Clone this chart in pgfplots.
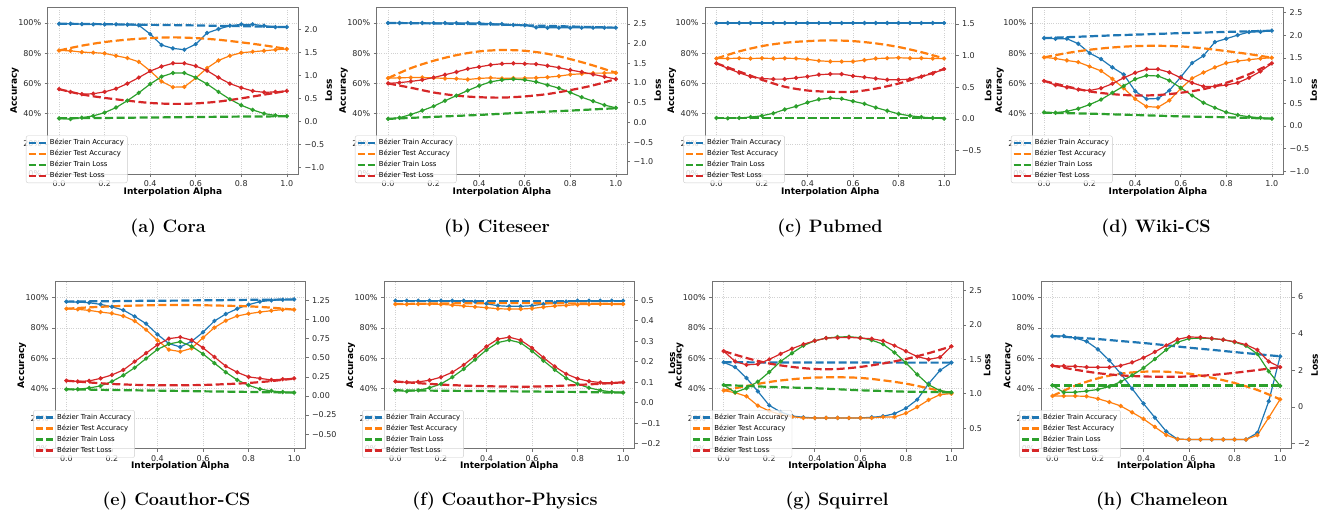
\documentclass[border=0pt]{standalone}
\usepackage{pgfplots}
\pgfplotsset{compat=1.18}
\usepackage{pgfplotstable}
\usepackage{fontspec}
\newfontfamily\dv{DejaVu Sans}
\definecolor{tb}{HTML}{1F77B4}
\definecolor{to}{HTML}{FF7F0E}
\definecolor{tg}{HTML}{2CA02C}
\definecolor{tr}{HTML}{D62728}

% ---------------- data: solid (linear path) a tra tea trl tel ----------------
\pgfplotstableread{
a tra tea trl tel
0.00 99.5 81.8 0.065 0.70
0.05 99.5 81.6 0.05 0.64
0.10 99.3 80.7 0.08 0.59
0.15 99.1 80.4 0.12 0.60
0.20 99.1 79.9 0.19 0.64
0.25 99.1 78.3 0.30 0.71
0.30 98.9 76.8 0.45 0.82
0.35 98.5 74.3 0.62 0.95
0.40 92.7 68.3 0.81 1.09
0.45 85.4 61.3 0.97 1.19
0.50 83.2 57.5 1.05 1.26
0.55 82.3 57.7 1.05 1.26
0.60 86.0 63.5 0.95 1.20
0.65 93.4 70.2 0.81 1.10
0.70 96.0 75.2 0.64 0.95
0.75 98.2 78.3 0.48 0.82
0.80 99.1 80.3 0.35 0.73
0.85 99.1 81.0 0.25 0.66
0.90 98.2 81.6 0.17 0.63
0.95 97.3 82.3 0.13 0.64
1.00 97.3 82.8 0.115 0.66
}\Scora
\pgfplotstableread{
a tra tea trl tel
0.0 99.5 81.8 0.07 0.70
0.1 99.4 85.0 0.072 0.585
0.2 99.2 87.4 0.075 0.51
0.3 99.0 89.0 0.08 0.45
0.4 98.8 90.0 0.085 0.40
0.5 98.6 90.5 0.09 0.38
0.6 98.4 90.0 0.095 0.39
0.7 98.1 88.9 0.10 0.43
0.8 97.9 87.2 0.105 0.50
0.9 97.6 85.2 0.108 0.58
1.0 97.3 82.8 0.11 0.66
}\Dcora
\pgfplotstableread{
a tra tea trl tel
0.00 100 63.5 0.09 0.99
0.05 100 63.7 0.12 1.01
0.10 100 63.9 0.20 1.04
0.15 100 63.9 0.30 1.08
0.20 100 63.7 0.41 1.14
0.25 100 63.3 0.55 1.21
0.30 100 63.1 0.68 1.28
0.35 100 62.6 0.81 1.36
0.40 100 63.3 0.93 1.41
0.45 99.5 63.7 1.03 1.46
0.50 99.3 63.3 1.08 1.49
0.55 98.7 63.5 1.10 1.50
0.60 98.5 63.5 1.08 1.49
0.65 97.1 63.7 1.03 1.48
0.70 96.9 64.1 0.95 1.44
0.75 96.9 64.8 0.87 1.39
0.80 96.9 65.9 0.76 1.33
0.85 96.9 66.4 0.64 1.28
0.90 96.9 66.8 0.54 1.22
0.95 96.9 66.8 0.44 1.16
1.00 96.9 67.0 0.37 1.10
}\Sciteseer
\pgfplotstableread{
a tra tea trl tel
0.0 100 63.5 0.09 0.99
0.1 99.9 70.1 0.115 0.88
0.2 99.7 75.0 0.14 0.76
0.3 99.5 78.7 0.165 0.68
0.4 99.2 81.2 0.19 0.64
0.5 98.9 82.1 0.22 0.63
0.6 98.5 81.6 0.25 0.66
0.7 98.1 79.6 0.275 0.72
0.8 97.7 76.1 0.30 0.82
0.9 97.3 71.9 0.33 0.94
1.0 96.9 67.0 0.36 1.10
}\Dciteseer
\pgfplotstableread{
a tra tea trl tel
0.00 100 76.5 0.016 0.88
0.05 100 76.5 0.01 0.80
0.10 100 76.7 0.016 0.73
0.15 100 76.5 0.03 0.67
0.20 100 76.7 0.05 0.64
0.25 100 76.5 0.09 0.63
0.30 100 76.7 0.15 0.63
0.35 100 76.5 0.20 0.65
0.40 100 75.9 0.26 0.67
0.45 100 75.0 0.31 0.70
0.50 100 74.5 0.33 0.71
0.55 100 74.5 0.32 0.71
0.60 100 74.5 0.28 0.68
0.65 100 75.4 0.24 0.66
0.70 100 76.5 0.18 0.64
0.75 100 76.7 0.13 0.62
0.80 100 77.0 0.08 0.62
0.85 100 76.7 0.05 0.63
0.90 100 76.7 0.03 0.67
0.95 100 76.5 0.016 0.72
1.00 100 76.5 0.005 0.79
}\Spubmed
\pgfplotstableread{
a tra tea trl tel
0.0 100 76.5 0.01 0.88
0.1 100 81.2 0.01 0.75
0.2 100 84.7 0.01 0.62
0.3 100 86.9 0.01 0.51
0.4 100 88.0 0.01 0.45
0.5 100 88.5 0.01 0.43
0.6 100 88.0 0.01 0.43
0.7 100 86.5 0.01 0.48
0.8 100 84.1 0.01 0.56
0.9 100 80.7 0.01 0.67
1.0 100 76.5 0.01 0.79
}\Dpubmed
\pgfplotstableread{
a tra tea trl tel
0.00 90.0 77.2 0.30 0.99
0.05 89.6 76.5 0.29 0.90
0.10 89.6 75.2 0.32 0.85
0.15 86.3 74.1 0.38 0.80
0.20 80.1 71.2 0.47 0.78
0.25 76.1 68.3 0.58 0.83
0.30 70.6 63.0 0.73 0.93
0.35 65.9 56.8 0.88 1.06
0.40 54.8 49.7 1.03 1.17
0.45 49.7 44.7 1.11 1.25
0.50 50.0 44.2 1.10 1.25
0.55 55.3 48.7 1.00 1.18
0.60 64.2 56.6 0.84 1.06
0.65 73.5 63.4 0.67 0.95
0.70 78.3 67.2 0.51 0.87
0.75 87.4 70.6 0.40 0.87
0.80 89.6 73.5 0.30 0.90
0.85 92.0 74.8 0.24 0.95
0.90 94.0 75.7 0.20 1.06
0.95 94.2 76.5 0.18 1.20
1.00 94.9 77.0 0.16 1.38
}\Swiki
\pgfplotstableread{
a tra tea trl tel
0.0 90.0 77.2 0.29 0.99
0.1 90.6 80.1 0.28 0.87
0.2 91.2 82.3 0.27 0.76
0.3 91.8 83.8 0.255 0.70
0.4 92.3 84.7 0.24 0.67
0.5 92.8 84.9 0.225 0.68
0.6 93.3 84.5 0.21 0.73
0.7 93.7 83.2 0.20 0.81
0.8 94.1 81.4 0.19 0.95
0.9 94.5 79.4 0.175 1.14
1.0 94.9 77.0 0.16 1.38
}\Dwiki
\pgfplotstableread{
a tra tea trl tel
0.00 97.4 92.7 0.087 0.20
0.05 97.1 92.3 0.087 0.19
0.10 96.7 91.6 0.105 0.197
0.15 95.6 90.5 0.13 0.23
0.20 94.0 89.6 0.19 0.275
0.25 91.8 87.9 0.27 0.34
0.30 87.6 84.6 0.37 0.45
0.35 82.8 78.8 0.49 0.56
0.40 75.7 71.8 0.61 0.67
0.45 69.6 65.6 0.68 0.75
0.50 67.4 64.3 0.71 0.77
0.55 71.1 66.5 0.65 0.73
0.60 77.1 73.5 0.55 0.63
0.65 84.6 80.2 0.43 0.51
0.70 89.2 84.8 0.31 0.39
0.75 92.7 87.9 0.21 0.31
0.80 95.4 89.4 0.14 0.25
0.85 97.4 90.5 0.09 0.23
0.90 98.2 91.4 0.066 0.21
0.95 98.7 92.1 0.052 0.22
1.00 98.9 92.1 0.044 0.23
}\Scs
\pgfplotstableread{
a tra tea trl tel
0.0 97.4 92.7 0.087 0.20
0.1 97.6 93.6 0.083 0.177
0.2 97.7 94.3 0.078 0.157
0.3 97.9 94.8 0.074 0.146
0.4 98.0 95.1 0.070 0.14
0.5 98.1 95.2 0.066 0.14
0.6 98.3 95.0 0.061 0.144
0.7 98.4 94.7 0.057 0.155
0.8 98.6 94.3 0.053 0.17
0.9 98.7 93.4 0.048 0.195
1.0 98.9 92.1 0.044 0.227
}\Dcs
\pgfplotstableread{
a tra tea trl tel
0.00 98.0 95.8 0.060 0.103
0.05 98.0 95.6 0.055 0.099
0.10 98.0 95.8 0.060 0.101
0.15 98.0 95.8 0.072 0.109
0.20 98.0 95.6 0.091 0.124
0.25 98.0 95.1 0.124 0.148
0.30 98.0 94.5 0.164 0.184
0.35 97.4 94.0 0.21 0.228
0.40 96.0 93.4 0.257 0.274
0.45 94.7 92.7 0.293 0.31
0.50 94.3 92.5 0.305 0.319
0.55 94.3 92.5 0.292 0.305
0.60 94.7 92.9 0.252 0.267
0.65 95.8 93.8 0.205 0.22
0.70 96.7 94.5 0.16 0.176
0.75 97.4 94.9 0.119 0.14
0.80 98.0 95.4 0.091 0.117
0.85 98.0 95.6 0.072 0.104
0.90 98.0 95.8 0.060 0.098
0.95 98.0 95.8 0.052 0.096
1.00 98.0 95.8 0.049 0.099
}\Sphys
\pgfplotstableread{
a tra tea trl tel
0.0 98.0 95.8 0.060 0.103
0.1 98.0 96.0 0.059 0.095
0.2 98.0 96.2 0.058 0.088
0.3 98.0 96.3 0.057 0.083
0.4 98.0 96.4 0.056 0.080
0.5 98.0 96.4 0.055 0.078
0.6 98.0 96.4 0.054 0.078
0.7 98.0 96.3 0.053 0.081
0.8 98.0 96.2 0.052 0.086
0.9 98.0 96.0 0.050 0.092
1.0 98.0 95.8 0.049 0.099
}\Dphys
\pgfplotstableread{
a tra tea trl tel
0.00 57.2 38.5 1.126 1.62
0.05 54.1 37.1 1.02 1.47
0.10 46.8 34.7 1.08 1.42
0.15 38.0 28.5 1.175 1.43
0.20 28.7 25.0 1.315 1.50
0.25 24.3 22.6 1.47 1.58
0.30 21.7 21.2 1.59 1.655
0.35 20.8 20.4 1.70 1.72
0.40 20.4 20.4 1.77 1.77
0.45 20.4 20.4 1.81 1.81
0.50 20.4 20.4 1.825 1.815
0.55 20.4 20.4 1.83 1.82
0.60 20.4 20.4 1.815 1.81
0.65 20.8 20.4 1.78 1.80
0.70 21.5 21.0 1.72 1.77
0.75 23.2 21.0 1.60 1.70
0.80 26.8 23.5 1.45 1.62
0.85 32.5 27.6 1.28 1.54
0.90 43.1 32.3 1.13 1.50
0.95 51.9 35.8 1.045 1.53
1.00 57.0 36.5 1.02 1.69
}\Ssq
\pgfplotstableread{
a tra tea trl tel
0.0 57.2 38.5 1.126 1.62
0.1 57.2 41.5 1.113 1.52
0.2 57.1 44.2 1.10 1.44
0.3 57.1 46.0 1.09 1.39
0.4 57.1 47.1 1.08 1.36
0.5 57.1 47.3 1.065 1.36
0.6 57.1 46.9 1.05 1.39
0.7 57.0 45.3 1.04 1.44
0.8 57.0 43.1 1.03 1.505
0.9 57.0 40.0 1.025 1.59
1.0 57.0 36.5 1.02 1.69
}\Dsq
\pgfplotstableread{
a tra tea trl tel
0.00 74.6 34.9 1.17 2.25
0.05 74.6 34.9 0.79 2.23
0.10 73.3 34.9 0.80 2.21
0.15 71.1 34.7 0.86 2.17
0.20 65.8 33.1 0.95 2.16
0.25 58.5 30.9 1.11 2.16
0.30 49.7 28.3 1.37 2.25
0.35 39.8 24.1 1.72 2.43
0.40 29.9 19.7 2.12 2.68
0.45 20.6 14.4 2.61 3.00
0.50 11.4 9.1 3.12 3.36
0.55 6.3 6.3 3.53 3.69
0.60 6.1 6.1 3.73 3.82
0.65 6.1 6.1 3.76 3.80
0.70 6.1 6.1 3.73 3.74
0.75 6.1 6.1 3.67 3.67
0.80 6.1 6.1 3.54 3.56
0.85 6.1 6.1 3.34 3.40
0.90 10.5 9.0 2.89 3.11
0.95 31.4 20.6 1.94 2.48
1.00 61.2 32.7 1.15 2.17
}\Sch
\pgfplotstableread{
a tra tea trl tel
0.0 74.6 34.9 1.17 2.25
0.1 73.6 41.7 1.17 2.03
0.2 72.6 46.6 1.17 1.84
0.3 71.3 49.7 1.17 1.72
0.4 70.0 51.0 1.17 1.66
0.5 68.5 51.0 1.17 1.64
0.6 66.9 49.7 1.17 1.66
0.7 65.5 47.0 1.17 1.74
0.8 64.0 43.5 1.17 1.86
0.9 62.6 38.9 1.17 2.01
1.0 61.2 32.7 1.17 2.17
}\Dch

\newcommand{\lblfont}{\dv\bfseries\fontsize{9}{10}\selectfont}
\pgfplotsset{
  base/.style={scale only axis, width=250.5pt, height=167pt, anchor=south west,
    xmin=-0.05, xmax=1.05, tick align=outside, major tick length=3pt,
    every tick/.style={black!55, line width=0.6pt},
    axis line style={black!55, line width=0.6pt},
    tick label style={font=\dv\fontsize{8}{9}\selectfont, text=black!85}},
  accax/.style={base, ymin=0, ymax=110.6,
    ytick={0,20,40,60,80,100}, yticklabels={0\%,20\%,40\%,60\%,80\%,100\%},
    xtick={0,0.2,0.4,0.6,0.8,1}, xticklabels={0.0,0.2,0.4,0.6,0.8,1.0},
    tick pos=left, grid=major, grid style={black!18, line width=0.45pt, dash pattern=on 1pt off 1.3pt},
    xlabel={Interpolation Alpha}, ylabel={Accuracy},
    every axis x label/.style={at={(axis description cs:0.5,-0.106)}, anchor=center, font=\lblfont},
    every axis y label/.style={at={(axis description cs:-0.132,0.5)}, rotate=90, anchor=center, font=\lblfont}},
  lossax/.style={base, axis y line*=right, axis x line=none},
  lossy/.style={ylabel={Loss},
    every axis y label/.style={at={(axis description cs:#1,0.5)}, rotate=90, anchor=center, font=\lblfont}},
  sl/.style={line width=1.2pt, mark=*, mark size=1.5pt, forget plot},
  dl/.style={line width=2.2pt, dash pattern=on 8pt off 3.5pt, smooth, forget plot},
  leg/.style={legend style={at={(axis description cs:-0.087,-0.054)}, anchor=south west,
    font=\dv\fontsize{6.9}{8}\selectfont, draw=black!20, fill=white, fill opacity=0.8,
    text opacity=1, draw opacity=1, rounded corners=2pt, inner xsep=1.5pt, inner ysep=1.5pt,
    row sep=0pt, cells={anchor=west, inner ysep=1pt}},
    legend image code/.code={\draw[##1] (0pt,0pt) -- (18pt,0pt);}},
}

\newcommand{\panel}[8]{%
  \begin{axis}[accax, at={(#1pt,-#2pt)}]
    \addplot[sl, tb] table[x=a, y=tra] {#3};
    \addplot[dl, tb] table[x=a, y=tra] {#4};
    \addplot[sl, to] table[x=a, y=tea] {#3};
    \addplot[dl, to] table[x=a, y=tea] {#4};
  \end{axis}
  \begin{axis}[lossax, at={(#1pt,-#2pt)}, leg, #5]
    \addplot[sl, tg] table[x=a, y=trl] {#3};
    \addplot[dl, tg] table[x=a, y=trl] {#4};
    \addplot[sl, tr] table[x=a, y=tel] {#3};
    \addplot[dl, tr] table[x=a, y=tel] {#4};
    \addlegendimage{tb, line width=2.2pt, dash pattern=on 7pt off 3pt}
    \addlegendentry{Bézier Train Accuracy}
    \addlegendimage{to, line width=2.2pt, dash pattern=on 7pt off 3pt}
    \addlegendentry{Bézier Test Accuracy}
    \addlegendimage{tg, line width=2.2pt, dash pattern=on 7pt off 3pt}
    \addlegendentry{Bézier Train Loss}
    \addlegendimage{tr, line width=2.2pt, dash pattern=on 7pt off 3pt}
    \addlegendentry{Bézier Test Loss}
  \end{axis}
  \node[anchor=base, font=\fontsize{18}{20}\selectfont\bfseries] at (#7pt,-#8pt) {#6};
}

\begin{document}
\begin{tikzpicture}
\useasboundingbox (0,0) rectangle (1323pt,-512pt);
\panel{47.7}{174}{\Scora}{\Dcora}{ymin=-1.14, ymax=2.48, ytick={-1,-0.5,0,0.5,1,1.5,2},
  yticklabels={−1.0,−0.5,0.0,0.5,1.0,1.5,2.0}, lossy=1.122}{(a) Cora}{168}{232}
\panel{376.7}{174}{\Sciteseer}{\Dciteseer}{ymin=-1.31, ymax=2.93, ytick={-1,-0.5,0,0.5,1,1.5,2,2.5},
  yticklabels={−1.0,−0.5,0.0,0.5,1.0,1.5,2.0,2.5}, lossy=1.122}{(b) Citeseer}{497}{232}
\panel{705}{174}{\Spubmed}{\Dpubmed}{ymin=-0.87, ymax=1.77, ytick={-0.5,0,0.5,1,1.5},
  yticklabels={−0.5,0.0,0.5,1.0,1.5}, lossy=1.13}{(c) Pubmed}{830}{232}
\panel{1032.7}{174}{\Swiki}{\Dwiki}{ymin=-1.06, ymax=2.62, ytick={-1,-0.5,0,0.5,1,1.5,2,2.5},
  yticklabels={−1.0,−0.5,0.0,0.5,1.0,1.5,2.0,2.5}, lossy=1.122}{(d) Wiki-CS}{1156}{232}
\panel{55}{448.7}{\Scs}{\Dcs}{ymin=-0.69, ymax=1.495, ytick={-0.5,-0.25,0,0.25,0.5,0.75,1,1.25},
  yticklabels={−0.50,−0.25,0.00,0.25,0.50,0.75,1.00,1.25}}{(e) Coauthor-CS}{176.5}{505.5}
\panel{384}{448.7}{\Sphys}{\Dphys}{ymin=-0.225, ymax=0.59, ytick={-0.2,-0.1,0,0.1,0.2,0.3,0.4,0.5},
  yticklabels={−0.2,−0.1,0.0,0.1,0.2,0.3,0.4,0.5}}{(f) Coauthor-Physics}{505}{505.5}
\panel{712.3}{448.7}{\Ssq}{\Dsq}{ymin=0.20, ymax=2.63, ytick={0.5,1,1.5,2,2.5},
  yticklabels={0.5,1.0,1.5,2.0,2.5}, lossy=1.097}{(g) Squirrel}{837}{505.5}
\panel{1041}{448.7}{\Sch}{\Dch}{ymin=-2.29, ymax=6.84, ytick={-2,0,2,4,6},
  yticklabels={−2,0,2,4,6}, lossy=1.092}{(h) Chameleon}{1162}{505.5}
\node[rotate=90, anchor=center, font=\lblfont] at (672pt,-363pt) {Loss};
\end{tikzpicture}
\end{document}
